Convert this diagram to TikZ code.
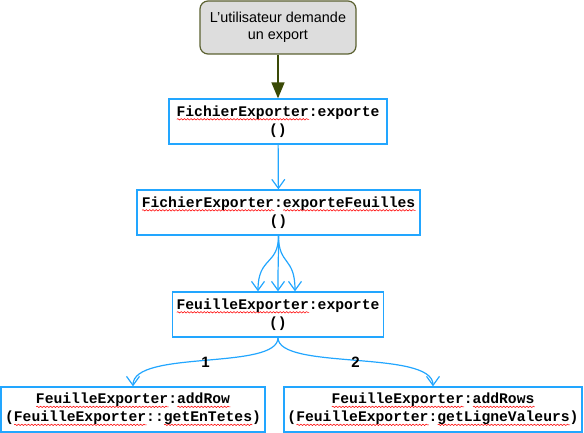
\documentclass[tikz,border=0pt]{standalone}
\usepackage{fontspec}
\setmainfont{Liberation Sans}
\setmonofont{Liberation Mono}
\usepackage{tikz}
\usetikzlibrary{positioning, arrows.meta, decorations.pathmorphing}
\definecolor{bleuclair}{HTML}{22A6FF}
\definecolor{vertolive}{HTML}{3A4A06}
\definecolor{bordolive}{HTML}{5B6131}
\definecolor{grisfond}{HTML}{DDDDDD}
% soulignement ondule rouge (correcteur)
\newsavebox{\motbox}
\newcommand{\souligne}[1]{\sbox{\motbox}{#1}\edef\largeur{\the\wd\motbox}%
    \rlap{\tikz[baseline=0pt, x=1pt, y=1pt]\draw[red, line width=0.55pt, decorate,
        decoration={snake, amplitude=0.7pt, segment length=3.3pt}]
        (0pt,-3pt) -- (\largeur,-3pt);}\usebox{\motbox}}

\begin{document}
\begin{tikzpicture}[x=1pt, y=-1pt,
    methode/.style={draw=bleuclair, line width=1.3pt, align=center, inner sep=0pt,
        minimum height=45pt, font=\fontsize{14.7}{18}\selectfont\ttfamily\bfseries},
    appel/.style={bleuclair, line width=1.2pt, -{Straight Barb[length=9pt,width=13pt]}},
    numero/.style={font=\fontsize{15}{15}\selectfont\bfseries, text=black, inner sep=1pt}]
    \useasboundingbox (0,0) rectangle (584,433);
    % Evenement de depart
    \node[draw=bordolive, fill=grisfond, rounded corners=8pt, line width=1.2pt, align=center,
        minimum width=156pt, minimum height=53pt, font=\fontsize{14.4}{17}\selectfont]
        (demande) at (278,27.5) {L'utilisateur demande\\un export};
    % Appels de methodes
    \node[methode, minimum width=218pt] (fichier) at (278,121.5)
        {\souligne{FichierExporter}:exporte\\()};
    \node[methode, minimum width=283pt] (feuilles) at (278.5,212.5)
        {\souligne{FichierExporter}:\souligne{exporteFeuilles}\\()};
    \node[methode, minimum width=211pt] (feuille) at (278,314.5)
        {\souligne{FeuilleExporter}:exporte\\()};
    \node[methode, minimum width=264pt] (ligne) at (133,409.5)
        {\souligne{FeuilleExporter}:\souligne{addRow}\\(\souligne{FeuilleExporter}::\souligne{getEnTetes})};
    \node[methode, minimum width=298pt] (lignes) at (433,409.5)
        {\souligne{FeuilleExporter}:\souligne{addRows}\\(\souligne{FeuilleExporter}:\souligne{getLigneValeurs})};
    % Liens
    \draw[vertolive, line width=1.5pt, -{Triangle[length=16pt,width=13pt]}] (demande) -- (fichier);
    \draw[appel] (fichier) -- (feuilles);
    \foreach \dx in {-20,0,17} {
        \draw[appel] (feuilles.south) .. controls +(0,30) and +(0,-35) .. ([xshift=\dx pt]feuille.north);
    }
    \draw[appel] (feuille.south) .. controls +(0,33) and +(0,-37) .. (ligne.north)
        node[numero, pos=0.5, yshift=-2pt] {1};
    \draw[appel] (feuille.south) .. controls +(0,33) and +(0,-37) .. (lignes.north)
        node[numero, pos=0.5, yshift=-2pt] {2};
\end{tikzpicture}
\end{document}
